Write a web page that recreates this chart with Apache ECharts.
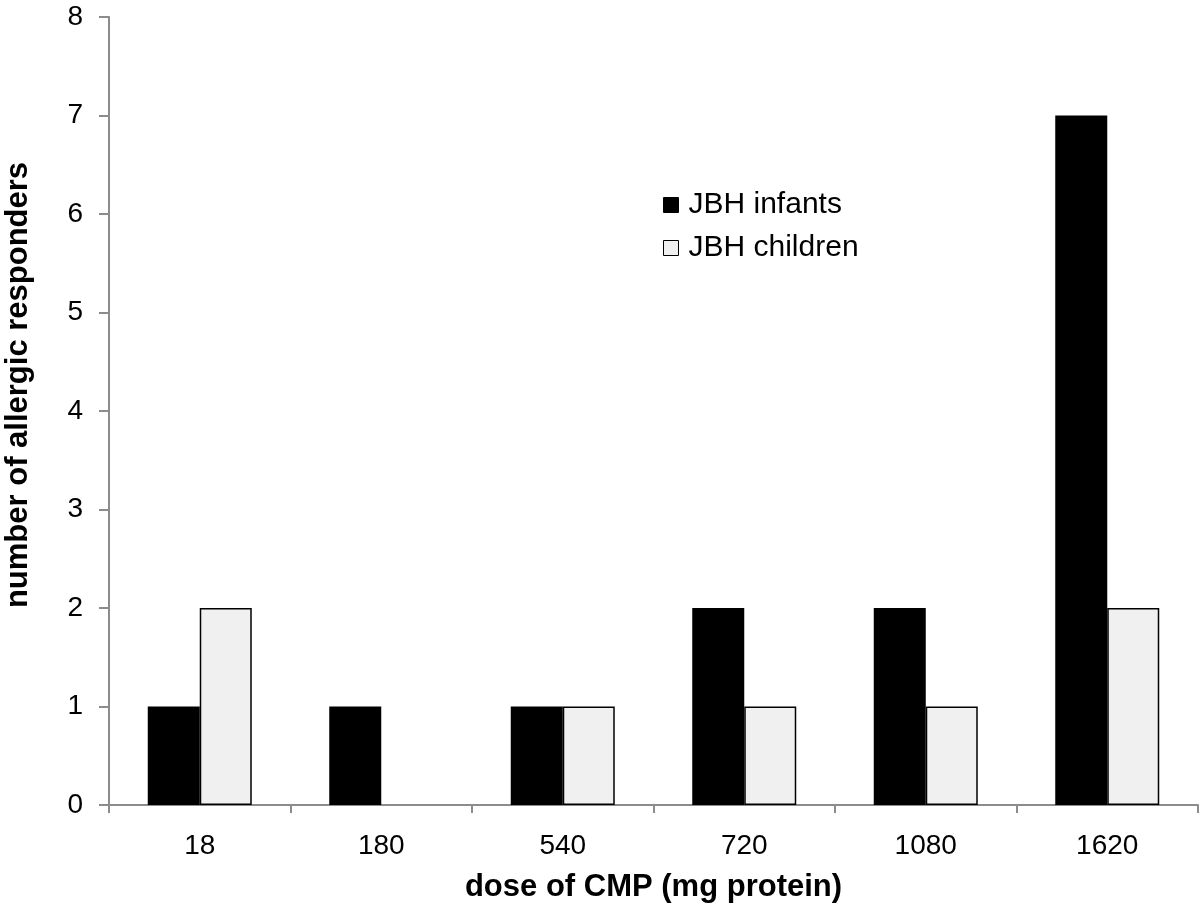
<!DOCTYPE html>
<html><head><meta charset="utf-8">
<script src="https://cdn.jsdelivr.net/npm/echarts@6/dist/echarts.min.js"></script>
<style>html,body{margin:0;padding:0;background:#fff}#c{width:1200px;height:909px}</style>
</head><body><div id="c"></div>
<script>
var categories = ['18', '180', '540', '720', '1080', '1620'];
var infants = [1, 1, 1, 2, 2, 7];
var children = [2, 0, 1, 1, 1, 2];
var yTicks = [0, 1, 2, 3, 4, 5, 6, 7, 8];

var font = '"Liberation Sans", Arial, Helvetica, sans-serif';
function toData(arr) {
  return arr.map(function (v) {
    return v === 0 ? { value: v, itemStyle: { borderWidth: 0 } } : v;
  });
}
var chart = echarts.init(document.getElementById('c'));
chart.setOption({
  animation: false,
  grid: { left: 109, right: 2, top: 17, bottom: 104, containLabel: false, outerBoundsMode: 'none' },
  legend: {
    orient: 'vertical', left: 658, top: 185, itemWidth: 15, itemHeight: 15, itemGap: 13,
    icon: 'rect',
    textStyle: { fontFamily: font, fontSize: 30, color: '#000', padding: [0, 0, 0, 5] },
    data: [
      { name: 'JBH infants', itemStyle: { color: '#000', borderColor: '#000', borderWidth: 1 } },
      { name: 'JBH children', itemStyle: { color: '#f0f0f0', borderColor: '#000', borderWidth: 1 } }
    ]
  },
  xAxis: {
    type: 'category', data: categories,
    name: 'dose of CMP (mg protein)', nameLocation: 'middle', nameGap: 67,
    nameTextStyle: { fontFamily: font, fontSize: 31, fontWeight: 'bold', color: '#000' },
    axisLine: { lineStyle: { color: '#8c8c8c', width: 2 } },
    axisTick: { show: true, length: 8, alignWithLabel: false, lineStyle: { color: '#8c8c8c', width: 2 } },
    axisLabel: { fontFamily: font, fontSize: 28, color: '#000', margin: 27 }
  },
  yAxis: {
    type: 'value', min: 0, max: 8, interval: 1,
    name: 'number of allergic responders', nameLocation: 'middle', nameGap: 75,
    nameTextStyle: { fontFamily: font, fontSize: 31, fontWeight: 'bold', color: '#000', padding: [0, 0, 0, 52] },
    axisLine: { show: true, lineStyle: { color: '#8c8c8c', width: 2 } },
    axisTick: { show: true, length: 10, lineStyle: { color: '#8c8c8c', width: 2 } },
    splitLine: { show: false },
    axisLabel: { fontFamily: font, fontSize: 28, color: '#000', margin: 26,
      formatter: function (v) { return yTicks.indexOf(v) >= 0 ? String(v) : ''; } }
  },
  series: [
    { name: 'JBH infants', type: 'bar', data: toData(infants), barWidth: 52, barGap: '0%',
      itemStyle: { color: '#000', borderColor: '#000', borderWidth: 1.5 } },
    { name: 'JBH children', type: 'bar', data: toData(children), barWidth: 52, barGap: '0%',
      itemStyle: { color: '#f0f0f0', borderColor: '#000', borderWidth: 1.5 } }
  ]
});
</script></body></html>
